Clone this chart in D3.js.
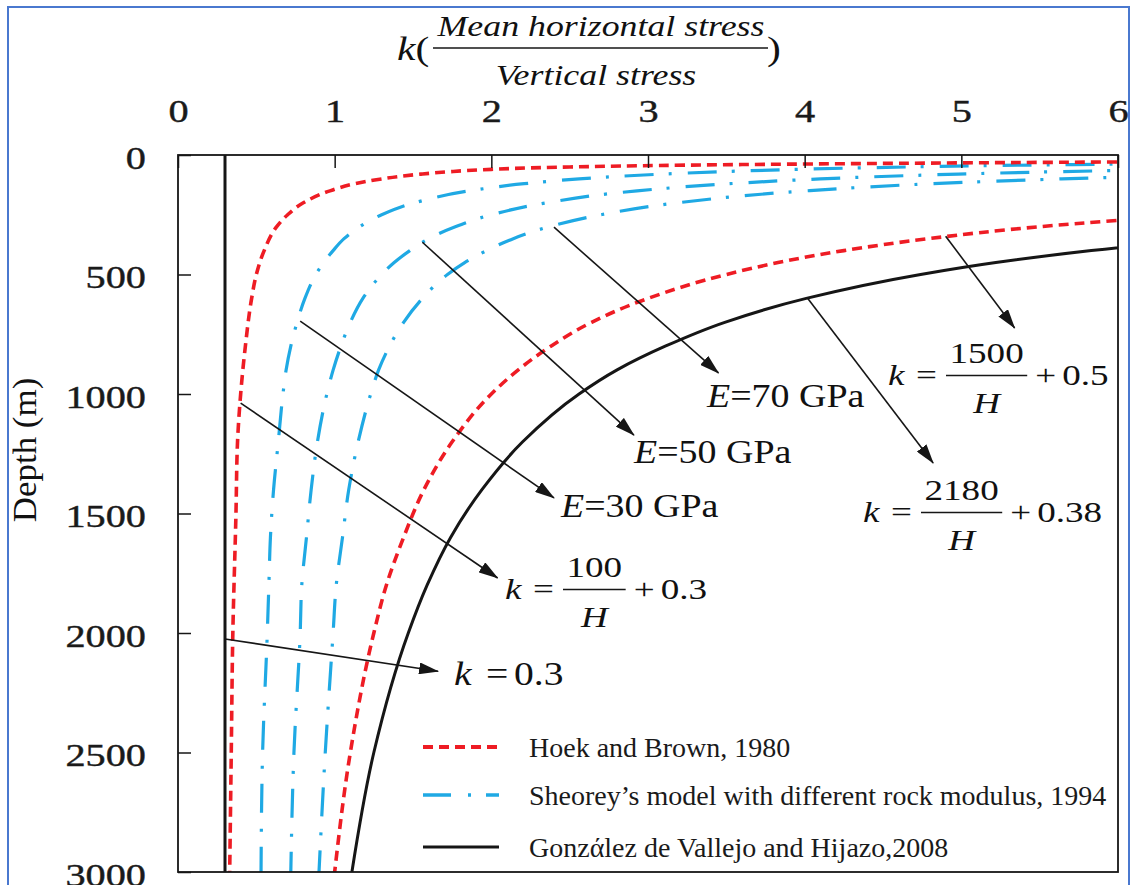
<!DOCTYPE html>
<html>
<head>
<meta charset="utf-8">
<script src="https://cdn.jsdelivr.net/npm/d3@7"></script>
<style>
  html, body { margin: 0; padding: 0; background: #fff; }
  svg { display: block; }
</style>
</head>
<body>
<svg id="chart" width="1133" height="885"></svg>
<script>
// ---- Data: stress ratio k versus depth H (m) ----
const xTicks = [0, 1, 2, 3, 4, 5, 6];
const yTicks = [0, 500, 1000, 1500, 2000, 2500, 3000];

// Hoek and Brown (1980), lower bound k = 100/H + 0.3
const hoekLowDepth = [28, 33, 40, 50, 60, 70, 80, 90, 100, 120, 150, 200, 250, 300, 400, 500, 600, 800, 1000, 1200, 1500, 2000, 2500, 3000];
const hoekLowK     = [6.3, 5.0, 3.6, 2.5, 2.0, 1.73, 1.55, 1.41, 1.3, 1.13, 0.97, 0.8, 0.7, 0.63, 0.55, 0.5, 0.47, 0.43, 0.4, 0.38, 0.37, 0.35, 0.34, 0.33];

// Hoek and Brown (1980), upper bound k = 1500/H + 0.5
const hoekHighDepth = [250, 300, 350, 400, 450, 500, 600, 700, 800, 900, 1000, 1200, 1400, 1600, 1800, 2000, 2500, 3000];
const hoekHighK     = [6.5, 5.5, 4.79, 4.25, 3.83, 3.5, 3.0, 2.64, 2.38, 2.17, 2.0, 1.75, 1.57, 1.44, 1.33, 1.25, 1.1, 1.0];

// Sheorey (1994) for rock modulus E = 30, 50, 70 GPa
const sheoreyDepth = [30, 40, 50, 60, 70, 80, 90, 100, 120, 150, 200, 250, 300, 350, 400, 450, 500, 600, 700, 800, 900, 1000, 1200, 1400, 1600, 1800, 2000, 2500, 3000];
const sheoreyE30 = [7.46, 5.71, 4.66, 3.96, 3.46, 3.09, 2.79, 2.56, 2.21, 1.86, 1.51, 1.30, 1.16, 1.06, 0.99, 0.93, 0.88, 0.81, 0.76, 0.72, 0.69, 0.67, 0.64, 0.61, 0.59, 0.58, 0.57, 0.54, 0.53];
const sheoreyE50 = [12.27, 9.35, 7.6, 6.43, 5.6, 4.98, 4.49, 4.1, 3.52, 2.93, 2.35, 2.0, 1.77, 1.6, 1.48, 1.38, 1.3, 1.18, 1.1, 1.04, 0.99, 0.95, 0.89, 0.85, 0.82, 0.79, 0.78, 0.74, 0.72];
const sheoreyE70 = [17.07, 12.99, 10.54, 8.91, 7.74, 6.87, 6.18, 5.64, 4.82, 4.01, 3.19, 2.70, 2.37, 2.14, 1.97, 1.83, 1.72, 1.56, 1.44, 1.35, 1.28, 1.23, 1.15, 1.09, 1.05, 1.01, 0.99, 0.94, 0.90];

// González de Vallejo and Hijazo (2008): k = 2180/H + 0.38 and the minimum k = 0.3
const vallejoDepth = [300, 350, 400, 450, 500, 600, 700, 800, 900, 1000, 1200, 1400, 1600, 1800, 2000, 2500, 3000];
const vallejoK     = [7.65, 6.61, 5.83, 5.22, 4.74, 4.01, 3.49, 3.11, 2.80, 2.56, 2.20, 1.94, 1.74, 1.59, 1.47, 1.25, 1.11];
const vallejoMinDepth = [0, 3000];
const vallejoMinK     = [0.3, 0.3];

const legendLabels = [
  "Hoek and Brown, 1980",
  "Sheorey\u2019s model with different rock modulus, 1994",
  "Gonz\u03ACl\u0065z de Vallejo and Hijazo,2008"
];
const modulusLabels = ["30", "50", "70"];

// ---- Drawing ----
const SERIF = "'Liberation Serif', 'Times New Roman', Times, serif";
const RED = "#ee1c24";
const BLUE = "#1fa9e4";
const INK = "#161616";

const svg = d3.select("#chart");
svg.append("rect").attr("width", 1133).attr("height", 885).attr("fill", "#fff");

// outer figure border
svg.append("rect")
  .attr("x", 8).attr("y", 7).attr("width", 1121).attr("height", 900)
  .attr("fill", "none").attr("stroke", "#4a78cf").attr("stroke-width", 2);

const x = d3.scaleLinear().domain([0, 6]).range([178, 1118]);
const y = d3.scaleLinear().domain([0, 3000]).range([155, 872]);

function zip(depth, k) { return depth.map((h, i) => ({ h, k: k[i] })); }

svg.append("defs").append("clipPath").attr("id", "plotClip")
  .append("rect").attr("x", x(0)).attr("y", y(0))
  .attr("width", x(6) - x(0)).attr("height", y(3000) - y(0));

svg.select("defs").append("marker")
  .attr("id", "arrowHead")
  .attr("markerUnits", "userSpaceOnUse")
  .attr("viewBox", "0 0 20 12")
  .attr("markerWidth", 20).attr("markerHeight", 12)
  .attr("refX", 19).attr("refY", 6)
  .attr("orient", "auto")
  .append("path").attr("d", "M0,0 L20,6 L0,12 Z").attr("fill", INK);

const line = d3.line().x(d => x(d.k)).y(d => y(d.h)).curve(d3.curveMonotoneY);
const plot = svg.append("g").attr("clip-path", "url(#plotClip)");

const series = [
  { data: zip(vallejoMinDepth, vallejoMinK), color: INK, width: 3, dash: null },
  { data: zip(sheoreyDepth, sheoreyE30), color: BLUE, width: 3.2, dash: "29,16,3,15" },
  { data: zip(sheoreyDepth, sheoreyE50), color: BLUE, width: 3.2, dash: "29,16,3,15" },
  { data: zip(sheoreyDepth, sheoreyE70), color: BLUE, width: 3.2, dash: "29,16,3,15" },
  { data: zip(hoekLowDepth, hoekLowK), color: RED, width: 3.6, dash: "10,6" },
  { data: zip(hoekHighDepth, hoekHighK), color: RED, width: 3.6, dash: "10,6" },
  { data: zip(vallejoDepth, vallejoK), color: INK, width: 3, dash: null }
];

plot.selectAll("path.curve").data(series).join("path")
  .attr("class", "curve")
  .attr("d", d => line(d.data))
  .attr("fill", "none")
  .attr("stroke", d => d.color)
  .attr("stroke-width", d => d.width)
  .attr("stroke-dasharray", d => d.dash);

// axes: ticks on top and left, pointing inward
const xAxis = d3.axisTop(x).tickValues(xTicks).tickSizeInner(-13).tickSizeOuter(0).tickFormat(d3.format("d"));
const yAxis = d3.axisLeft(y).tickValues(yTicks).tickSizeInner(-13).tickSizeOuter(0).tickFormat(d3.format("d"));

const gx = svg.append("g").attr("transform", `translate(0,${y(0)})`).call(xAxis);
const gy = svg.append("g").attr("transform", `translate(${x(0)},0)`).call(yAxis);
[gx, gy].forEach(g => {
  g.select(".domain").remove();
  g.attr("font-family", SERIF).attr("font-size", 31);
  g.selectAll(".tick line").attr("stroke", INK).attr("stroke-width", 1.5);
  g.selectAll(".tick text").attr("fill", "#1a1a1a").attr("dy", null)
    .attr("stroke", "#1a1a1a").attr("stroke-width", 0.4);
});
gx.selectAll(".tick text").attr("y", null).attr("transform", "translate(0,-33) scale(1.3,1)");
gy.selectAll(".tick text").attr("x", null).attr("transform", "translate(-32,13) scale(1.3,1)");

// plot frame
svg.append("rect")
  .attr("x", x(0)).attr("y", y(0))
  .attr("width", x(6) - x(0)).attr("height", y(3000) - y(0))
  .attr("fill", "none").attr("stroke", INK).attr("stroke-width", 1.8);

// text helper: horizontally stretched serif text
function stext(parent, px, py, str, o) {
  const g = parent.append("g").attr("transform", `translate(${px},${py}) scale(${o.sx || 1},1)`);
  const t = g.append("text")
    .attr("font-family", SERIF).attr("font-size", o.size)
    .attr("text-anchor", o.anchor || "start")
    .attr("fill", o.fill || "#111");
  if (o.italic) t.attr("font-style", "italic");
  t.text(str);
  return t;
}

// axis titles
stext(svg, 397, 60, "", { size: 34, sx: 1.22 })
  .call(t => { t.append("tspan").attr("font-style", "italic").text("k"); t.append("tspan").text("("); });
stext(svg, 601, 36, "Mean horizontal stress", { size: 29, sx: 1.235, italic: true, anchor: "middle" });
svg.append("line").attr("x1", 433).attr("x2", 768).attr("y1", 48).attr("y2", 48)
  .attr("stroke", INK).attr("stroke-width", 1.4);
stext(svg, 596, 85, "Vertical stress", { size: 29, sx: 1.235, italic: true, anchor: "middle" });
stext(svg, 767, 60, ")", { size: 34, sx: 1.22 });

const depthLabel = svg.append("g").attr("transform", "translate(36,450) rotate(-90)");
stext(depthLabel, 0, 0, "Depth (m)", { size: 33, sx: 1.06, anchor: "middle" });

// callout arrows (from a curve to its label), in data coordinates
const callouts = [
  { from: [0.3, 2025], to: [1.66, 2160] },
  { from: [0.40, 1038], to: [2.04, 1770] },
  { from: [0.78, 695], to: [2.40, 1435] },
  { from: [1.56, 365], to: [2.91, 1172] },
  { from: [2.40, 302], to: [3.45, 912] },
  { from: [4.90, 340], to: [5.34, 724] },
  { from: [4.02, 600], to: [4.82, 1289] }
];
svg.append("g").selectAll("line").data(callouts).join("line")
  .attr("x1", d => x(d.from[0])).attr("y1", d => y(d.from[1]))
  .attr("x2", d => x(d.to[0])).attr("y2", d => y(d.to[1]))
  .attr("stroke", INK).attr("stroke-width", 1.6)
  .attr("marker-end", "url(#arrowHead)");

// modulus labels "E=.. GPa"
const eLayout = [[561, 517], [634, 463], [707, 407]];
modulusLabels.forEach((m, i) => {
  const t = stext(svg, eLayout[i][0], eLayout[i][1], "", { size: 33, sx: 1.15 });
  t.append("tspan").attr("font-style", "italic").text("E");
  t.append("tspan").text("=" + m + " GPa");
});

// fraction-form formula labels: k = num/H + add
function fractionLabel(x0, b, num, add) {
  const size = 29, sx = 1.28;
  stext(svg, x0, b, "k", { size, sx, italic: true });
  stext(svg, x0 + 28, b, "=", { size, sx });
  const probe = stext(svg, 0, 0, num, { size, sx });
  const numW = probe.node().getComputedTextLength() * sx;
  d3.select(probe.node().parentNode).remove();
  const l0 = x0 + 58, l1 = l0 + numW + 7, mid = (l0 + l1) / 2;
  stext(svg, mid, b - 22, num, { size, sx, anchor: "middle" });
  svg.append("line").attr("x1", l0).attr("x2", l1).attr("y1", b - 9.5).attr("y2", b - 9.5)
    .attr("stroke", INK).attr("stroke-width", 1.3);
  stext(svg, mid, b + 28, "H", { size, sx, italic: true, anchor: "middle" });
  stext(svg, l1 + 8, b, "+", { size, sx });
  stext(svg, l1 + 35, b, add, { size, sx });
}
fractionLabel(505, 599, "100", "0.3");
fractionLabel(888, 385, "1500", "0.5");
fractionLabel(863, 522, "2180", "0.38");

// k = 0.3
stext(svg, 454, 685, "k", { size: 33, sx: 1.2, italic: true });
stext(svg, 486, 685, "=", { size: 33, sx: 1.2 });
stext(svg, 514, 685, "0.3", { size: 33, sx: 1.2 });

// legend
const legend = svg.append("g");
const legendRows = [
  { y: 747, color: RED, width: 3.8, dash: "10,6" },
  { y: 795, color: BLUE, width: 3.6, dash: "28,17,3,15" },
  { y: 847, color: INK, width: 3, dash: null }
];
legendRows.forEach((r, i) => {
  legend.append("line").attr("x1", 423).attr("x2", 499).attr("y1", r.y).attr("y2", r.y)
    .attr("stroke", r.color).attr("stroke-width", r.width).attr("stroke-dasharray", r.dash);
  stext(legend, 529, r.y + 10, legendLabels[i], { size: 28, fill: "#1a1a1a" });
});
</script>
</body>
</html>
